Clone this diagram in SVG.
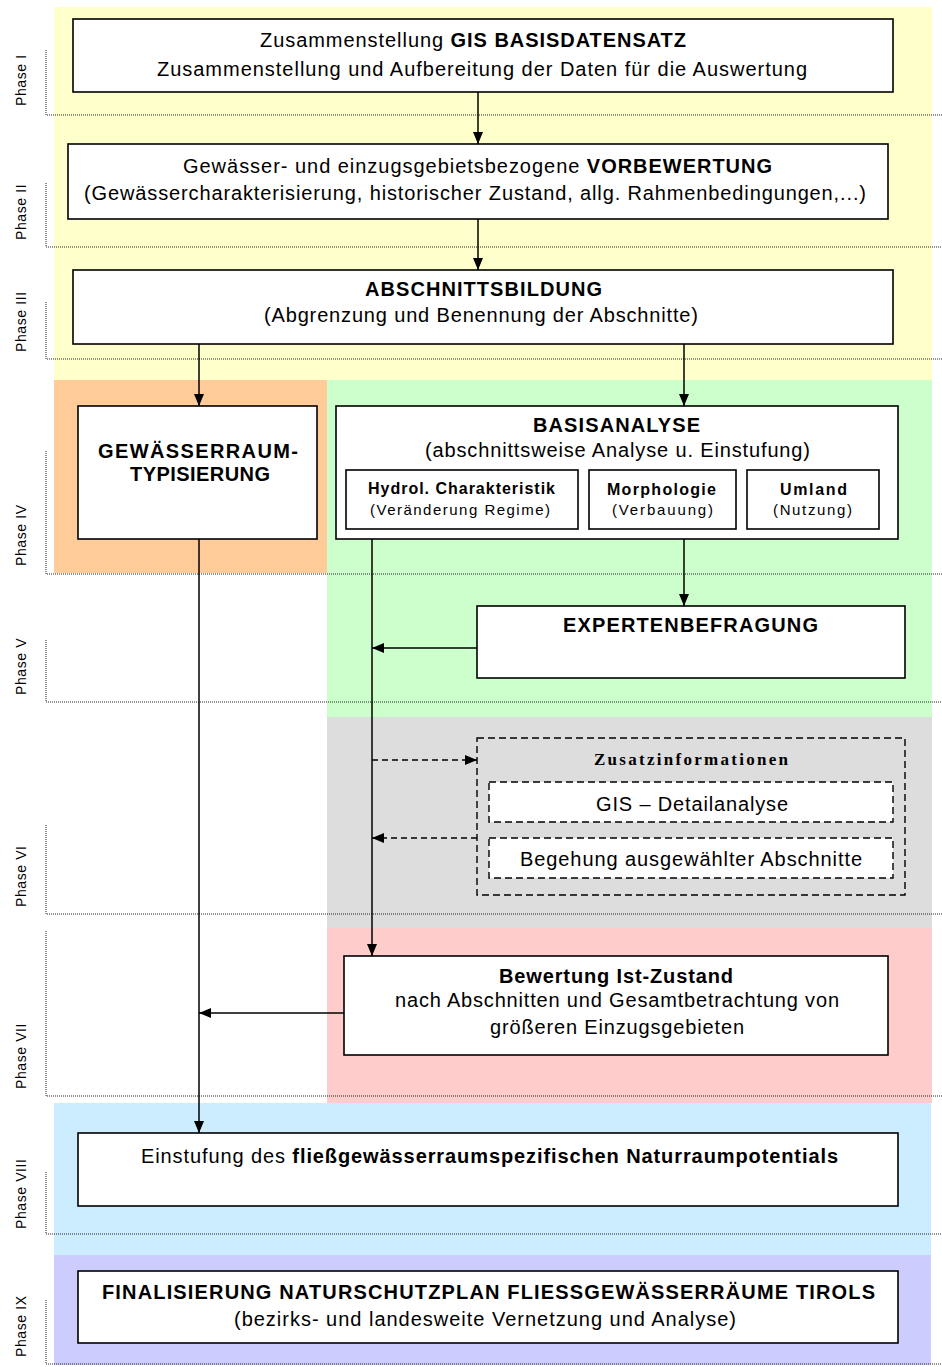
<svg xmlns="http://www.w3.org/2000/svg" width="942" height="1367" viewBox="0 0 942 1367">
<defs>
<marker id="ah" markerUnits="userSpaceOnUse" markerWidth="13" markerHeight="11" refX="12" refY="5" orient="auto">
<path d="M0,0 L12,5 L0,10 Z" fill="#000"/>
</marker>
<style>
.bg{stroke:none}
.box{fill:#fff;stroke:#000;stroke-width:1.6}
.dbox{fill:#fff;stroke:#000;stroke-width:1.4;stroke-dasharray:7,4}
.dboxo{fill:none;stroke:#000;stroke-width:1.4;stroke-dasharray:7,4}
.pl{stroke:#222;stroke-width:1;stroke-dasharray:1,1;fill:none}
.con{stroke:#000;stroke-width:1.5;fill:none;marker-end:url(#ah)}
.dcon{stroke:#000;stroke-width:1.5;fill:none;stroke-dasharray:6,4;marker-end:url(#ah)}
.t{font-family:"Liberation Sans",Arial,sans-serif;font-size:20px;fill:#000}
.b{font-weight:bold}
.s{font-size:15px}
.sb{font-size:16px;font-weight:bold}
.ser{font-family:"Liberation Serif","Times New Roman",serif;font-size:17px;font-weight:bold;fill:#000}
.ph{font-family:"Liberation Sans",Arial,sans-serif;font-size:14px;fill:#000;letter-spacing:0.6px}
</style>
</defs>
<rect width="942" height="1367" fill="#fff"/>
<g id="backgrounds">
<rect class="bg" x="54" y="7" width="878" height="373" fill="#FFFFCC"/>
<rect class="bg" x="54" y="380" width="273" height="193" fill="#FFCC99"/>
<rect class="bg" x="327" y="380" width="605" height="337" fill="#CCFFCC"/>
<rect class="bg" x="327" y="717" width="605" height="211" fill="#DDDDDD"/>
<rect class="bg" x="327" y="928" width="605" height="175" fill="#FFCCCC"/>
<rect class="bg" x="54" y="1103" width="877" height="152" fill="#CCECFF"/>
<rect class="bg" x="54" y="1255" width="877" height="110" fill="#CCCCFF"/>
</g>
<g id="phases">
<path class="pl" d="M46,50 V115 H942"/>
<path class="pl" d="M46,183 V247 H942"/>
<path class="pl" d="M46,302 V359 H942"/>
<path class="pl" d="M46,451 V574 H942"/>
<path class="pl" d="M46,640 V702 H942"/>
<path class="pl" d="M46,825 V914 H942"/>
<path class="pl" d="M46,931 V1096 H942"/>
<path class="pl" d="M46,1172 V1234 H942"/>
<path class="pl" d="M46,1300 V1364 H942"/>
<text class="ph" transform="translate(26,106) rotate(-90)">Phase I</text>
<text class="ph" transform="translate(26,240) rotate(-90)">Phase II</text>
<text class="ph" transform="translate(26,352) rotate(-90)">Phase III</text>
<text class="ph" transform="translate(26,566) rotate(-90)">Phase IV</text>
<text class="ph" transform="translate(26,695) rotate(-90)">Phase V</text>
<text class="ph" transform="translate(26,907) rotate(-90)">Phase VI</text>
<text class="ph" transform="translate(26,1089) rotate(-90)">Phase VII</text>
<text class="ph" transform="translate(26,1229) rotate(-90)">Phase VIII</text>
<text class="ph" transform="translate(26,1357) rotate(-90)">Phase IX</text>
</g>
<g id="connectors">
<line class="con" x1="478" y1="92" x2="478" y2="144"/>
<line class="con" x1="478" y1="219" x2="478" y2="270"/>
<line class="con" x1="199" y1="344" x2="199" y2="406"/>
<line class="con" x1="684" y1="344" x2="684" y2="406"/>
<line class="con" x1="684" y1="539" x2="684" y2="606"/>
<line class="con" x1="199" y1="539" x2="199" y2="1133"/>
<line class="con" x1="372" y1="539" x2="372" y2="956"/>
<line class="con" x1="477" y1="648" x2="372" y2="648"/>
<line class="dcon" x1="372" y1="760" x2="477" y2="760"/>
<line class="dcon" x1="477" y1="838" x2="372" y2="838"/>
<line class="con" x1="344" y1="1013" x2="199" y2="1013"/>
</g>
<g id="n1">
<rect class="box" x="73" y="19" width="820" height="73"/>
<text class="t" x="260" y="47" textLength="426">Zusammenstellung <tspan class="b">GIS BASISDATENSATZ</tspan></text>
<text class="t" x="157" y="76" textLength="650">Zusammenstellung und Aufbereitung der Daten für die Auswertung</text>
</g>
<g id="n2">
<rect class="box" x="68" y="144" width="820" height="75"/>
<text class="t" x="183" y="173" textLength="589">Gewässer- und einzugsgebietsbezogene <tspan class="b">VORBEWERTUNG</tspan></text>
<text class="t" x="84" y="200" textLength="782">(Gewässercharakterisierung, historischer Zustand, allg. Rahmenbedingungen,...)</text>
</g>
<g id="n3">
<rect class="box" x="73" y="270" width="820" height="74"/>
<text class="t b" x="365" y="296" textLength="237">ABSCHNITTSBILDUNG</text>
<text class="t" x="264" y="322" textLength="434">(Abgrenzung und Benennung der Abschnitte)</text>
</g>
<g id="n4">
<rect class="box" x="78" y="406" width="239" height="133"/>
<text class="t b" x="98" y="458" textLength="200">GEWÄSSERRAUM-</text>
<text class="t b" x="130" y="481" textLength="140">TYPISIERUNG</text>
</g>
<g id="n5">
<rect class="box" x="336" y="406" width="562" height="133"/>
<text class="t b" x="533" y="432" textLength="167">BASISANALYSE</text>
<text class="t" x="425" y="457" textLength="385">(abschnittsweise Analyse u. Einstufung)</text>
<g id="n5a">
<rect class="box" x="346" y="470" width="232" height="59"/>
<text class="t sb" x="368" y="494" textLength="187">Hydrol. Charakteristik</text>
<text class="t s" x="370" y="515" textLength="180">(Veränderung Regime)</text>
</g>
<g id="n5b">
<rect class="box" x="589" y="470" width="147" height="59"/>
<text class="t sb" x="607" y="495" textLength="109">Morphologie</text>
<text class="t s" x="612" y="515" textLength="101">(Verbauung)</text>
</g>
<g id="n5c">
<rect class="box" x="747" y="470" width="132" height="59"/>
<text class="t sb" x="780" y="495" textLength="67">Umland</text>
<text class="t s" x="773" y="515" textLength="79">(Nutzung)</text>
</g>
</g>
<g id="n6">
<rect class="box" x="477" y="606" width="428" height="72"/>
<text class="t b" x="563" y="632" textLength="255">EXPERTENBEFRAGUNG</text>
</g>
<g id="n7">
<rect class="dboxo" x="477" y="738" width="428" height="157"/>
<text class="ser" x="594" y="765" textLength="194">Zusatzinformationen</text>
<g id="n7a">
<rect class="dbox" x="489" y="782" width="404" height="40"/>
<text class="t" x="596" y="811" textLength="192">GIS – Detailanalyse</text>
</g>
<g id="n7b">
<rect class="dbox" x="489" y="838" width="404" height="40"/>
<text class="t" x="520" y="866" textLength="342">Begehung ausgewählter Abschnitte</text>
</g>
</g>
<g id="n8">
<rect class="box" x="344" y="956" width="544" height="99"/>
<text class="t b" x="499" y="983" textLength="234">Bewertung Ist-Zustand</text>
<text class="t" x="395" y="1007" textLength="444">nach Abschnitten und Gesamtbetrachtung von</text>
<text class="t" x="490" y="1034" textLength="254">größeren Einzugsgebieten</text>
</g>
<g id="n9">
<rect class="box" x="78" y="1133" width="820" height="73"/>
<text class="t" x="141" y="1163" textLength="697">Einstufung des <tspan class="b">fließgewässerraumspezifischen Naturraumpotentials</tspan></text>
</g>
<g id="n10">
<rect class="box" x="78" y="1271" width="820" height="72"/>
<text class="t b" x="102" y="1299" textLength="773">FINALISIERUNG NATURSCHUTZPLAN FLIESSGEWÄSSERRÄUME TIROLS</text>
<text class="t" x="234" y="1326" textLength="502">(bezirks- und landesweite Vernetzung und Analyse)</text>
</g>
</svg>
